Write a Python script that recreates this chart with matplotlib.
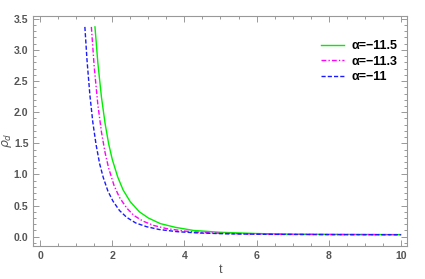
import matplotlib
matplotlib.use("Agg")
import matplotlib.pyplot as plt
from matplotlib.ticker import MultipleLocator

# Data
t_a115 = [1.52, 1.60, 1.70, 1.80, 1.90, 2.00, 2.15, 2.30, 2.50, 2.75, 3.00, 3.33, 3.75, 4.25, 5.0, 6.0, 7.0, 8.5, 10.0]
rho_a115 = [3.37, 2.79, 2.24, 1.82, 1.49, 1.24, 0.96, 0.75, 0.56, 0.40, 0.30, 0.21, 0.15, 0.10, 0.07, 0.05, 0.04, 0.036, 0.033]

t_a113 = [1.42, 1.50, 1.60, 1.70, 1.80, 1.90, 2.05, 2.20, 2.40, 2.60, 2.85, 3.15, 3.5, 4.0, 4.6, 5.4, 6.5, 8.0, 10.0]
rho_a113 = [3.37, 2.72, 2.12, 1.68, 1.35, 1.10, 0.82, 0.63, 0.46, 0.34, 0.25, 0.18, 0.13, 0.09, 0.063, 0.048, 0.039, 0.034, 0.032]

t_a11 = [1.24, 1.30, 1.38, 1.46, 1.55, 1.65, 1.75, 1.88, 2.02, 2.2, 2.4, 2.65, 2.95, 3.3, 3.8, 4.4, 5.2, 6.3, 8.0, 10.0]
rho_a11 = [3.37, 2.83, 2.27, 1.84, 1.48, 1.17, 0.95, 0.73, 0.57, 0.42, 0.31, 0.22, 0.16, 0.115, 0.08, 0.059, 0.045, 0.0375, 0.033, 0.031]

labels = ["α=−11.5", "α=−11.3", "α=−11"]
xticks = [0, 2, 4, 6, 8, 10]
yticks = [0.0, 0.5, 1.0, 1.5, 2.0, 2.5, 3.0, 3.5]

plt.rcParams['font.family'] = ['Liberation Sans', 'DejaVu Sans']

fig = plt.figure(figsize=(4.25, 2.79), dpi=100)
ax = fig.add_axes([33.3/425, 1-246/279, (407.3-33.3)/425, (246-15.7)/279])

ax.plot(t_a115, rho_a115, color='#00ee00', lw=1.0, ls='-', label=labels[0])
ax.plot(t_a113, rho_a113, color='#ff00ff', lw=1.0, ls=(0, (3.5, 1.5, 1, 1.5)), label=labels[1])
ax.plot(t_a11, rho_a11, color='#1a1aff', lw=1.0, ls=(0, (3, 1.5)), label=labels[2])

ax.set_xlim(-0.19, 10.18)
ax.set_ylim(-0.15, 3.55)
ax.set_xticks(xticks)
ax.set_xticklabels([str(v) for v in xticks])
ax.set_yticks(yticks)
ax.set_yticklabels([f"{v:.1f}" for v in yticks])
ax.xaxis.set_minor_locator(MultipleLocator(0.5))
ax.yaxis.set_minor_locator(MultipleLocator(0.1))

gray = '#999999'
for s in ax.spines.values():
    s.set_color(gray)
    s.set_linewidth(0.8)
ax.tick_params(which='both', direction='in', top=True, right=True, color=gray, width=0.7)
ax.tick_params(which='major', length=4, labelsize=7.6, labelcolor='#555555', pad=3.5)
ax.tick_params(which='minor', length=2.2)
for lab in ax.get_xticklabels() + ax.get_yticklabels():
    lab.set_fontweight('bold')

ax.set_xlabel("t", fontsize=9, color='#555555', labelpad=2)
ax.set_ylabel(r"$\rho_d$", fontsize=9, color='#555555')
ax.yaxis.set_label_coords((14 - 33.3) / 374, 0.46)

leg = ax.legend(loc='upper left', bbox_to_anchor=(321/425, 1-40/279), bbox_transform=fig.transFigure,
                frameon=False, handlelength=1.85, handletextpad=0.6, labelspacing=0.3,
                borderpad=0, borderaxespad=0, prop={'size': 9, 'weight': 'bold'})

fig.savefig("out.png", dpi=100)
